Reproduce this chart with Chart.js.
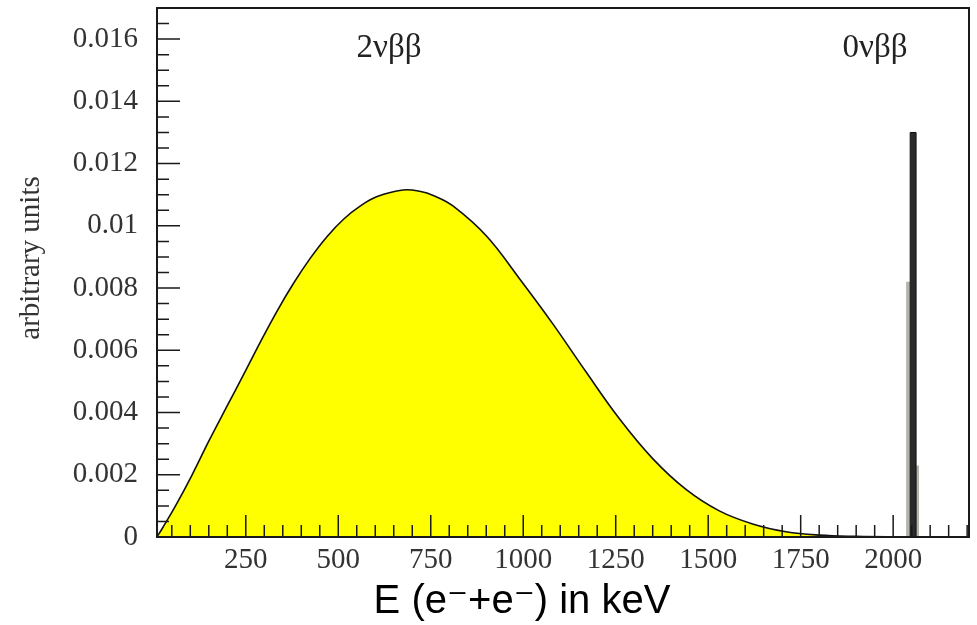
<!DOCTYPE html>
<html>
<head>
<meta charset="utf-8">
<script src="https://cdn.jsdelivr.net/npm/chart.js@4.4.0/dist/chart.umd.min.js"></script>
<style>
  body { margin: 0; background: #fff; }
</style>
</head>
<body>
<canvas id="spectrum" width="977" height="625"></canvas>
<script>
// two-neutrino spectrum, summed energy of both electrons (keV)
var energy = [10, 25, 60, 105, 150, 200, 245, 290, 335, 380, 425, 470, 515, 560, 605,
              675, 720, 760, 810, 900, 990, 1080, 1170, 1260, 1350, 1440, 1530, 1620,
              1710, 1800, 1900, 2040];
var rate = [0, 0.00029, 0.00100, 0.00200, 0.00308, 0.00422, 0.00524, 0.00628, 0.00727,
            0.00817, 0.00897, 0.00966, 0.01022, 0.01064, 0.01094, 0.01115, 0.01111,
            0.01096, 0.01064, 0.00968, 0.00830, 0.00685, 0.00530, 0.00380, 0.00252,
            0.00153, 0.00084, 0.00042, 0.00017, 0.00006, 0.00002, 0];

// neutrinoless peak at the Q value: bin edges and contents
var peakEdges = [2035, 2046, 2062, 2070];
var peakCounts = [0.0082, 0.0130, 0.0023];

var xTicks = [250, 500, 750, 1000, 1250, 1500, 1750, 2000];
var yTicks = [0, 0.002, 0.004, 0.006, 0.008, 0.01, 0.012, 0.014, 0.016];

var xMin = 10, xMax = 2205, yMax = 0.017;

var xTitle = 'E (e\u207B+e\u207B) in keV';
var yTitle = 'arbitrary units';
var label2v = '2\u03BD\u03B2\u03B2';
var label0v = '0\u03BD\u03B2\u03B2';

var curve = energy.map(function(e, i) { return {x: e, y: rate[i]}; });

// histogram outline for a stepped line
function histPoints(edges, counts) {
  var pts = [{x: edges[0], y: 0}];
  for (var i = 0; i < counts.length; i++) pts.push({x: edges[i], y: counts[i]});
  pts.push({x: edges[edges.length - 1], y: 0});
  return pts;
}
var peakBin = peakCounts.indexOf(Math.max.apply(null, peakCounts));
var peakAll = histPoints(peakEdges, peakCounts);
var peakMax = histPoints(peakEdges.slice(peakBin, peakBin + 2), [peakCounts[peakBin]]);

// frame, inward ticks and the free-floating text
var frame = {
  id: 'frame',
  afterDatasetsDraw: function(chart) {
    var ctx = chart.ctx, a = chart.chartArea;
    var sx = chart.scales.x, sy = chart.scales.y;
    ctx.save();
    ctx.strokeStyle = '#1a1a1a';
    ctx.lineWidth = 1.5;
    ctx.beginPath();
    for (var e = 50; e < xMax; e += 50) {
      var px = sx.getPixelForValue(e);
      if (px <= a.left + 1) continue;
      var len = e % 250 === 0 ? 22 : 12;
      ctx.moveTo(px, a.bottom);
      ctx.lineTo(px, a.bottom - len);
    }
    for (var i = 1; i * 0.0005 < yMax; i++) {
      var py = sy.getPixelForValue(i * 0.0005);
      var l = i % 4 === 0 ? 23 : 12;
      ctx.moveTo(a.left, py);
      ctx.lineTo(a.left + l, py);
    }
    ctx.stroke();
    ctx.lineWidth = 2;
    ctx.strokeRect(a.left, a.top, a.right - a.left, a.bottom - a.top);
    ctx.restore();
  },
  afterDraw: function(chart) {
    var ctx = chart.ctx;
    ctx.save();
    ctx.fillStyle = '#222';
    ctx.textAlign = 'center';
    ctx.textBaseline = 'alphabetic';
    ctx.font = '33px "Liberation Serif"';
    ctx.fillText(label2v, 389, 57);
    ctx.fillText(label0v, 875, 57);

    ctx.fillStyle = '#000';
    ctx.textBaseline = 'middle';
    ctx.font = '40px "Liberation Sans", "DejaVu Sans"';
    ctx.fillText(xTitle, 522, 602);

    ctx.fillStyle = '#333';
    ctx.font = '29px "Liberation Serif"';
    ctx.translate(31, 258);
    ctx.rotate(-Math.PI / 2);
    ctx.fillText(yTitle, 0, 0);
    ctx.restore();
  }
};

var tickFont = {family: 'Liberation Serif', size: 29};

new Chart(document.getElementById('spectrum'), {
  type: 'line',
  data: {
    datasets: [
      {
        label: '2vbb',
        data: curve,
        borderColor: '#111',
        borderWidth: 1.6,
        backgroundColor: '#ffff00',
        fill: 'origin',
        pointRadius: 0,
        tension: 0.4
      },
      {
        label: '0vbb max',
        data: peakMax,
        stepped: 'before',
        borderWidth: 1,
        borderColor: '#111',
        backgroundColor: '#2a2a2a',
        fill: 'origin',
        pointRadius: 0
      },
      {
        label: '0vbb',
        data: peakAll,
        stepped: 'before',
        borderWidth: 0,
        borderColor: 'rgba(0,0,0,0)',
        backgroundColor: '#b4b4ac',
        fill: 'origin',
        pointRadius: 0
      }
    ]
  },
  options: {
    responsive: false,
    animation: false,
    layout: { padding: { top: 8, right: 8, left: 0, bottom: 0 } },
    plugins: {
      legend: { display: false },
      tooltip: { enabled: false }
    },
    scales: {
      x: {
        type: 'linear',
        min: xMin,
        max: xMax,
        grid: { display: false, drawTicks: false },
        border: { display: false },
        afterBuildTicks: function(s) { s.ticks = xTicks.map(function(v) { return {value: v}; }); },
        afterFit: function(s) { s.height = 88; s.paddingLeft = 0; s.paddingRight = 0; },
        ticks: {
          font: tickFont,
          color: '#333',
          padding: 6,
          maxRotation: 0,
          callback: function(v) { return String(v); }
        }
      },
      y: {
        min: 0,
        max: yMax,
        grid: { display: false, drawTicks: false },
        border: { display: false },
        afterBuildTicks: function(s) { s.ticks = yTicks.map(function(v) { return {value: v}; }); },
        afterFit: function(s) { s.width = 157; s.paddingTop = 0; s.paddingBottom = 0; },
        ticks: {
          font: tickFont,
          color: '#333',
          padding: 19,
          callback: function(v) { return String(parseFloat(v.toFixed(3))); }
        }
      }
    }
  },
  plugins: [frame]
});
</script>
</body>
</html>
